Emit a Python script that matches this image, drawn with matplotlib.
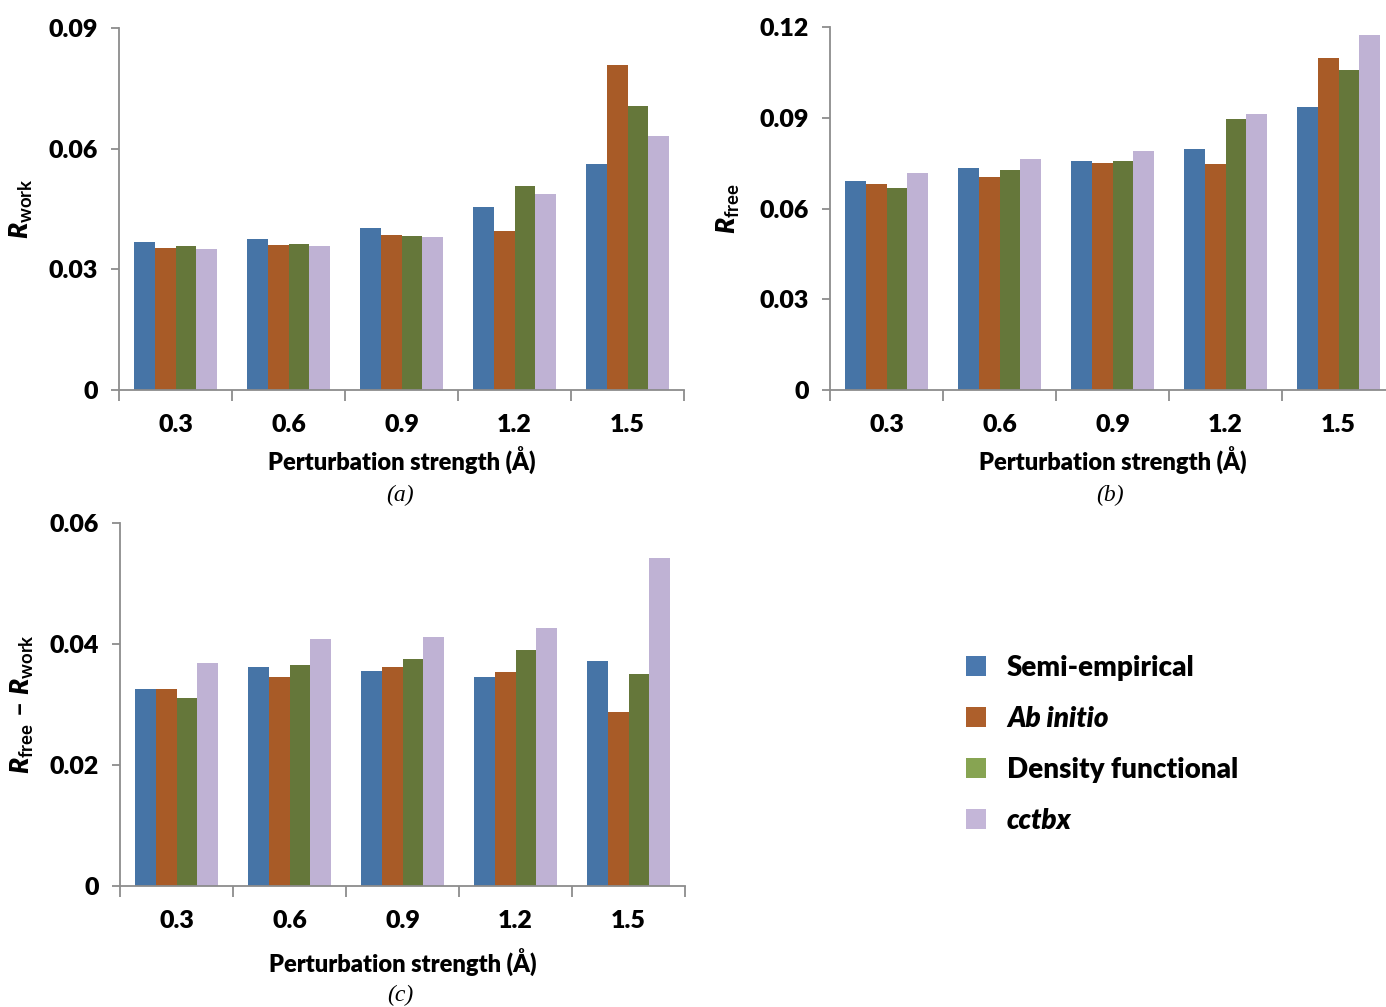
import numpy as np
import matplotlib
matplotlib.use('Agg')
import matplotlib.pyplot as plt
from matplotlib.patches import Patch

plt.rcParams['font.family'] = ['Lato', 'DejaVu Sans']
plt.rcParams['mathtext.fontset'] = 'custom'
plt.rcParams['mathtext.rm'] = 'Lato:bold'
plt.rcParams['mathtext.bf'] = 'Lato:bold'
plt.rcParams['mathtext.it'] = 'Lato:heavy:italic'
plt.rcParams['mathtext.bfit'] = 'Lato:heavy:italic'

strengths = ['0.3', '0.6', '0.9', '1.2', '1.5']
methods = ['Semi-empirical', 'Ab initio', 'Density functional', 'cctbx']

# R_work, one list per method
rwork_semi = [0.0367, 0.0375, 0.0403, 0.0455, 0.0561]
rwork_abin = [0.0354, 0.0360, 0.0386, 0.0396, 0.0808]
rwork_dft = [0.0358, 0.0363, 0.0382, 0.0508, 0.0707]
rwork_cctbx = [0.0351, 0.0358, 0.0381, 0.0487, 0.0632]

# R_free
rfree_semi = [0.0692, 0.0735, 0.0757, 0.0798, 0.0934]
rfree_abin = [0.0681, 0.0705, 0.0751, 0.0748, 0.1096]
rfree_dft = [0.0668, 0.0727, 0.0757, 0.0897, 0.1058]
rfree_cctbx = [0.0718, 0.0765, 0.0789, 0.0913, 0.1175]

# R_free - R_work
gap_semi = [0.0326, 0.0362, 0.0356, 0.0345, 0.0372]
gap_abin = [0.0326, 0.0346, 0.0362, 0.0353, 0.0288]
gap_dft = [0.0310, 0.0365, 0.0375, 0.0390, 0.0351]
gap_cctbx = [0.0368, 0.0408, 0.0411, 0.0427, 0.0542]

bar_colors = ['#4674A6', '#A85B27', '#65773A', '#BFB2D4']
legend_colors = ['#4A78AE', '#AD5F2B', '#87A452', '#C4B6D8']
axis_gray = '#8C8C8C'
W, H = 1386, 1007


def draw_panel(ax, series, yticks, ylabels, ylabel, ylabel_x, xlabel_y):
    n = len(strengths)
    w = 0.183
    x = np.arange(n) + 0.5
    for j, vals in enumerate(series):
        ax.bar(x + (j - 1.5) * w, vals, width=w, color=bar_colors[j],
               linewidth=0, zorder=2)
    ax.set_xlim(0, n)
    ax.set_ylim(yticks[0], yticks[-1])

    # ticks on category boundaries, labels centred
    ax.set_xticks(np.arange(n + 1))
    ax.set_xticklabels([])
    ax.set_xticks(x, minor=True)
    ax.set_xticklabels(strengths, minor=True, fontsize=18, fontweight='heavy')
    ax.tick_params(axis='x', which='major', direction='out', length=8,
                   width=1.3, color=axis_gray)
    ax.tick_params(axis='x', which='minor', length=0, pad=17)
    ax.set_yticks(yticks)
    ax.set_yticklabels(ylabels, fontsize=18, fontweight='heavy')
    ax.tick_params(axis='y', direction='out', length=6, width=1.3,
                   color=axis_gray, pad=9)

    for s in ['top', 'right']:
        ax.spines[s].set_visible(False)
    for s in ['left', 'bottom']:
        ax.spines[s].set_color(axis_gray)
        ax.spines[s].set_linewidth(1.3)

    ax.set_xlabel('Perturbation strength (Å)', fontsize=17, fontweight='heavy')
    ax.xaxis.label.set_va('center')
    ax.xaxis.set_label_coords(0.5, xlabel_y)
    ax.set_ylabel(ylabel, fontsize=19)
    ax.yaxis.set_label_coords(ylabel_x, 0.5)


fig = plt.figure(figsize=(13.86, 10.07), dpi=100)

ax_a = fig.add_axes([119 / W, 1 - 390 / H, 565 / W, 362 / H])
ax_b = fig.add_axes([830 / W, 1 - 390 / H, 565 / W, 363 / H])
ax_c = fig.add_axes([120 / W, 1 - 886 / H, 565 / W, 363 / H])

draw_panel(ax_a, [rwork_semi, rwork_abin, rwork_dft, rwork_cctbx],
           [0, 0.03, 0.06, 0.09], ['0', '0.03', '0.06', '0.09'],
           r'$R_{\mathrm{work}}$', -0.148, -0.196)
draw_panel(ax_b, [rfree_semi, rfree_abin, rfree_dft, rfree_cctbx],
           [0, 0.03, 0.06, 0.09, 0.12], ['0', '0.03', '0.06', '0.09', '0.12'],
           r'$R_{\mathrm{free}}$', -0.155, -0.196)
draw_panel(ax_c, [gap_semi, gap_abin, gap_dft, gap_cctbx],
           [0, 0.02, 0.04, 0.06], ['0', '0.02', '0.04', '0.06'],
           r'$R_{\mathrm{free}}\ \mathrm{–}\ R_{\mathrm{work}}$', -0.148, -0.212)

# panel captions
for label, px, py in [('(a)', 400, 495), ('(b)', 1110, 495), ('(c)', 400, 995)]:
    fig.text(px / W, 1 - py / H, label,
             family=['Liberation Serif', 'DejaVu Serif'],
             style='italic', fontsize=17, ha='center', va='center')

handles = [Patch(facecolor=c, edgecolor='none') for c in legend_colors]
leg = fig.legend(handles, methods, loc='upper left',
                 bbox_to_anchor=(941 / W, 1 - 630 / H), frameon=False,
                 fontsize=20, handlelength=0.72, handleheight=0.72,
                 handletextpad=0.75, labelspacing=0.9)
for i, t in enumerate(leg.get_texts()):
    t.set_fontweight('heavy')
    if i in (1, 3):
        t.set_style('italic')

fig.savefig('out.png', dpi=100)
